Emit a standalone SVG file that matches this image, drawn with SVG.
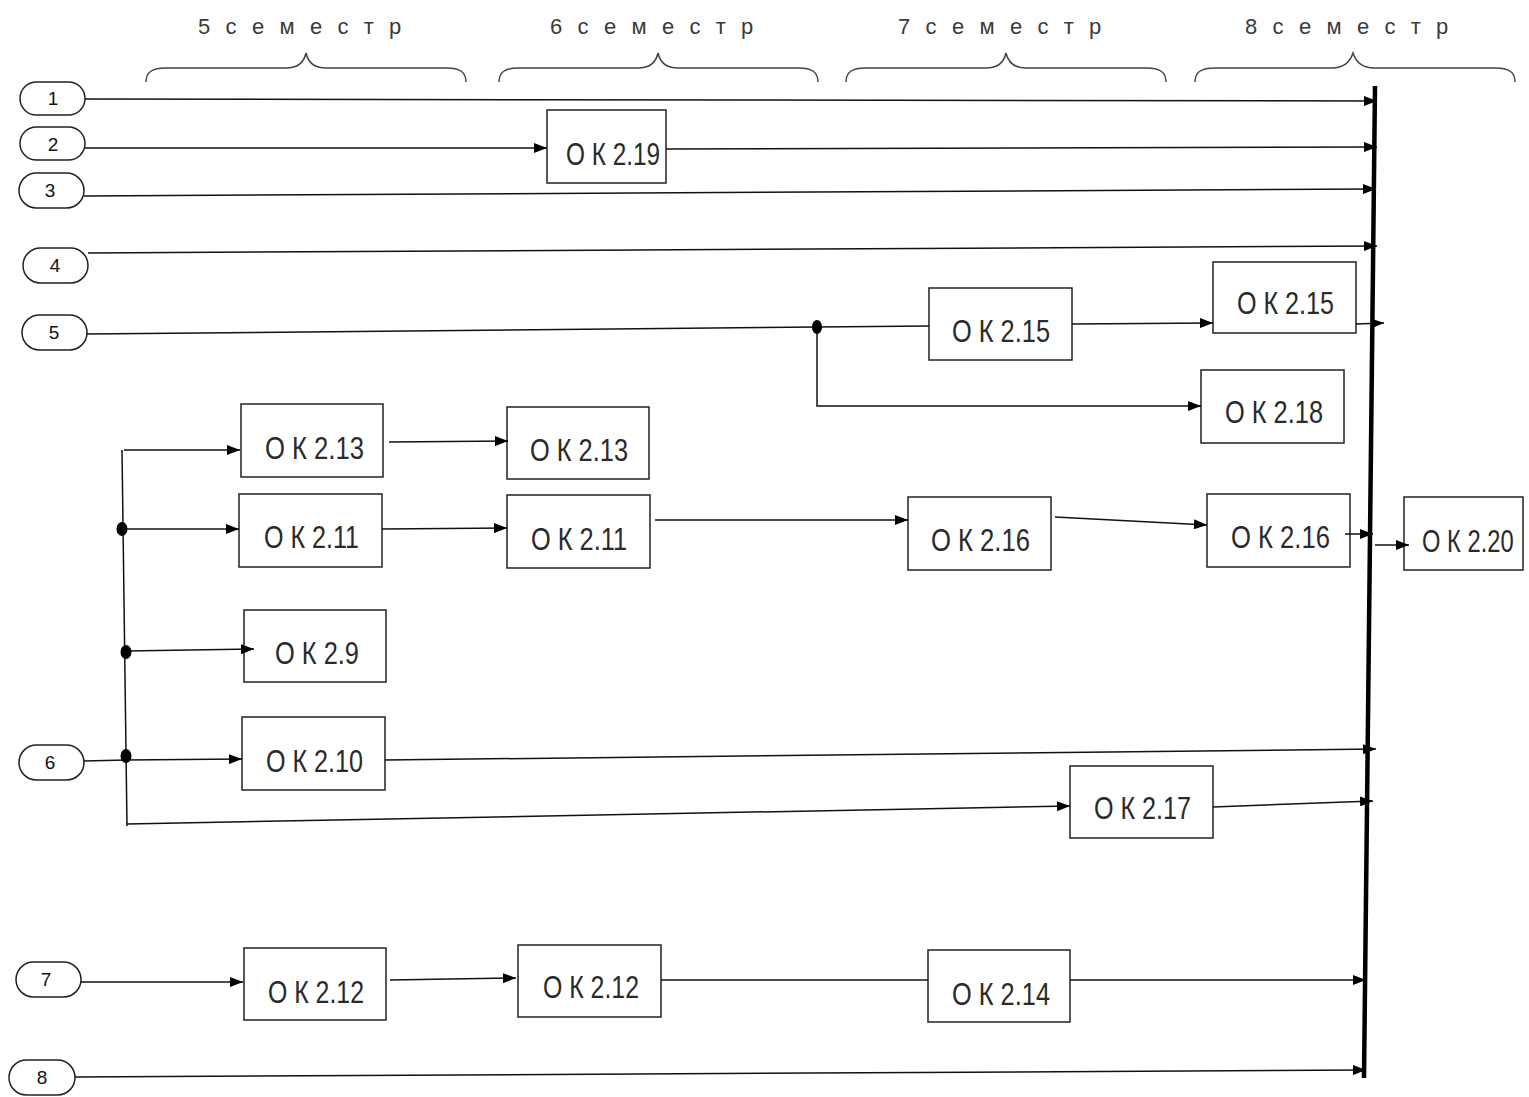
<svg xmlns="http://www.w3.org/2000/svg" width="1529" height="1097" viewBox="0 0 1529 1097">
<style>
.hdr{font-family:"Liberation Sans",Arial,sans-serif;font-size:22px;fill:#3a3a3a;letter-spacing:4.6px;text-anchor:middle}
.brace{fill:none;stroke:#444;stroke-width:1.5}
.pill{fill:#fff;stroke:#222;stroke-width:1.5}
.num{font-family:"Liberation Sans",Arial,sans-serif;font-size:19px;fill:#111;text-anchor:middle;dominant-baseline:central}
.box{fill:#fff;stroke:#222;stroke-width:1.5}
.lbl{font-family:"Liberation Sans",Arial,sans-serif;font-size:31px;fill:#2a2a2a}
.ln{fill:none;stroke:#111;stroke-width:1.5}
.arr{fill:none;stroke:#111;stroke-width:1.5;marker-end:url(#ah)}
.dot{fill:#000}
</style>
<defs>
<marker id="ah" markerUnits="userSpaceOnUse" markerWidth="13" markerHeight="10" refX="13" refY="5" orient="auto">
<path d="M0,0 L13,5 L0,10 z" fill="#000"/>
</marker>
</defs>
<rect width="1529" height="1097" fill="#fff"/>

<g id="headers">
<text class="hdr" x="302" y="34">5 с е м е с т р</text>
<text class="hdr" x="654" y="34">6 с е м е с т р</text>
<text class="hdr" x="1002" y="34">7 с е м е с т р</text>
<text class="hdr" x="1349" y="34">8 с е м е с т р</text>
<path class="brace" d="M146,82 C146,72 152,68 166,68 L286,68 C298,68 304,62 306,53 C308,62 314,68 326,68 L446,68 C460,68 466,72 466,82"/>
<path class="brace" d="M499,82 C499,72 505,68 519,68 L638,68 C650,68 656,62 658,53 C660,62 666,68 678,68 L798,68 C812,68 818,72 818,82"/>
<path class="brace" d="M846,82 C846,72 852,68 866,68 L986,68 C998,68 1004,62 1006,53 C1008,62 1014,68 1026,68 L1146,68 C1160,68 1166,72 1166,82"/>
<path class="brace" d="M1195,82 C1195,72 1201,68 1215,68 L1332,68 C1344,68 1350,62 1353,53 C1356,62 1362,68 1374,68 L1495,68 C1509,68 1515,72 1515,82"/>
</g>

<g id="bar">
<line x1="1375" y1="86" x2="1364" y2="1078" stroke="#000" stroke-width="4.5"/>
</g>

<g id="s1"><rect class="pill" x="20" y="82" width="65" height="33" rx="16.5"/><text class="num" x="53" y="98">1</text></g>
<g id="s2"><rect class="pill" x="20" y="127" width="65" height="33" rx="16.5"/><text class="num" x="53" y="144">2</text></g>
<g id="s3"><rect class="pill" x="19" y="173" width="65" height="35" rx="17.5"/><text class="num" x="50" y="190">3</text></g>
<g id="s4"><rect class="pill" x="23" y="248" width="65" height="35" rx="17.5"/><text class="num" x="55" y="265">4</text></g>
<g id="s5"><rect class="pill" x="22" y="315" width="65" height="35" rx="17.5"/><text class="num" x="54" y="332">5</text></g>
<g id="s6"><rect class="pill" x="19" y="745" width="65" height="35" rx="17.5"/><text class="num" x="50" y="762">6</text></g>
<g id="s7"><rect class="pill" x="16" y="962" width="65" height="35" rx="17.5"/><text class="num" x="46" y="979">7</text></g>
<g id="s8"><rect class="pill" x="9" y="1060" width="66" height="35" rx="17.5"/><text class="num" x="42" y="1077">8</text></g>

<g id="ok219"><rect class="box" x="547" y="110" width="119" height="73"/><text class="lbl" x="566" y="165" textLength="94" lengthAdjust="spacingAndGlyphs">О К 2.19</text></g>
<g id="ok215a"><rect class="box" x="929" y="288" width="143" height="72"/><text class="lbl" x="952" y="342" textLength="98" lengthAdjust="spacingAndGlyphs">О К 2.15</text></g>
<g id="ok215b"><rect class="box" x="1213" y="262" width="143" height="71"/><text class="lbl" x="1237" y="314" textLength="97" lengthAdjust="spacingAndGlyphs">О К 2.15</text></g>
<g id="ok218"><rect class="box" x="1201" y="370" width="143" height="73"/><text class="lbl" x="1225" y="423" textLength="98" lengthAdjust="spacingAndGlyphs">О К 2.18</text></g>
<g id="ok213a"><rect class="box" x="241" y="404" width="142" height="73"/><text class="lbl" x="265" y="459" textLength="99" lengthAdjust="spacingAndGlyphs">О К 2.13</text></g>
<g id="ok213b"><rect class="box" x="507" y="407" width="142" height="72"/><text class="lbl" x="530" y="461" textLength="98" lengthAdjust="spacingAndGlyphs">О К 2.13</text></g>
<g id="ok211a"><rect class="box" x="239" y="494" width="143" height="73"/><text class="lbl" x="264" y="548" textLength="95" lengthAdjust="spacingAndGlyphs">О К 2.11</text></g>
<g id="ok211b"><rect class="box" x="507" y="495" width="143" height="73"/><text class="lbl" x="531" y="550" textLength="96" lengthAdjust="spacingAndGlyphs">О К 2.11</text></g>
<g id="ok216a"><rect class="box" x="908" y="497" width="143" height="73"/><text class="lbl" x="931" y="551" textLength="99" lengthAdjust="spacingAndGlyphs">О К 2.16</text></g>
<g id="ok216b"><rect class="box" x="1207" y="494" width="143" height="73"/><text class="lbl" x="1231" y="548" textLength="99" lengthAdjust="spacingAndGlyphs">О К 2.16</text></g>
<g id="ok220"><rect class="box" x="1404" y="497" width="119" height="73"/><text class="lbl" transform="translate(1422,552) scale(0.77,1)" x="0" y="0" textLength="119" lengthAdjust="spacingAndGlyphs">О К 2.20</text></g>
<g id="ok29"><rect class="box" x="244" y="610" width="142" height="72"/><text class="lbl" x="275" y="664" textLength="84" lengthAdjust="spacingAndGlyphs">О К 2.9</text></g>
<g id="ok210"><rect class="box" x="242" y="717" width="143" height="73"/><text class="lbl" x="266" y="772" textLength="97" lengthAdjust="spacingAndGlyphs">О К 2.10</text></g>
<g id="ok217"><rect class="box" x="1070" y="766" width="143" height="72"/><text class="lbl" x="1094" y="819" textLength="97" lengthAdjust="spacingAndGlyphs">О К 2.17</text></g>
<g id="ok212a"><rect class="box" x="244" y="948" width="142" height="72"/><text class="lbl" x="268" y="1003" textLength="96" lengthAdjust="spacingAndGlyphs">О К 2.12</text></g>
<g id="ok212b"><rect class="box" x="518" y="945" width="143" height="72"/><text class="lbl" x="543" y="998" textLength="96" lengthAdjust="spacingAndGlyphs">О К 2.12</text></g>
<g id="ok214"><rect class="box" x="928" y="950" width="142" height="72"/><text class="lbl" x="952" y="1005" textLength="98" lengthAdjust="spacingAndGlyphs">О К 2.14</text></g>

<g id="connectors">
<line class="arr" x1="85" y1="99" x2="1377" y2="101"/>
<line class="arr" x1="85" y1="148" x2="547" y2="148"/>
<line class="arr" x1="666" y1="149" x2="1377" y2="147"/>
<line class="arr" x1="84" y1="196" x2="1376" y2="189"/>
<line class="arr" x1="88" y1="253" x2="1377" y2="246"/>
<line class="ln" x1="87" y1="334" x2="817" y2="327"/>
<line class="ln" x1="817" y1="327" x2="929" y2="326"/>
<line class="arr" x1="1072" y1="324" x2="1213" y2="323"/>
<line class="arr" x1="1356" y1="324" x2="1384" y2="323"/>
<polyline class="arr" points="817,327 817,406 1201,406"/>
<line class="ln" x1="122" y1="450" x2="127" y2="826"/>
<line class="arr" x1="124" y1="450" x2="240" y2="450"/>
<line class="arr" x1="389" y1="442" x2="508" y2="441"/>
<line class="arr" x1="122" y1="529" x2="239" y2="529"/>
<line class="arr" x1="382" y1="529" x2="507" y2="528"/>
<line class="arr" x1="655" y1="520" x2="908" y2="520"/>
<line class="arr" x1="1055" y1="517" x2="1207" y2="525"/>
<line class="arr" x1="1345" y1="534" x2="1373" y2="534"/>
<line class="arr" x1="1375" y1="545" x2="1409" y2="545"/>
<line class="arr" x1="126" y1="651" x2="254" y2="649"/>
<line class="ln" x1="84" y1="761" x2="126" y2="760"/>
<line class="arr" x1="126" y1="760" x2="242" y2="759"/>
<line class="arr" x1="385" y1="760" x2="1376" y2="749"/>
<line class="arr" x1="127" y1="824" x2="1070" y2="806"/>
<line class="arr" x1="1213" y1="807" x2="1373" y2="801"/>
<line class="arr" x1="81" y1="982" x2="243" y2="982"/>
<line class="arr" x1="390" y1="980" x2="516" y2="978"/>
<line class="ln" x1="661" y1="980" x2="928" y2="980"/>
<line class="arr" x1="1070" y1="980" x2="1366" y2="980"/>
<line class="arr" x1="75" y1="1077" x2="1366" y2="1070"/>
<ellipse class="dot" cx="817" cy="327" rx="5" ry="7"/>
<ellipse class="dot" cx="122" cy="529" rx="5.5" ry="7"/>
<ellipse class="dot" cx="126" cy="652" rx="5.5" ry="7"/>
<ellipse class="dot" cx="126" cy="756" rx="5.5" ry="7"/>
</g>
</svg>
